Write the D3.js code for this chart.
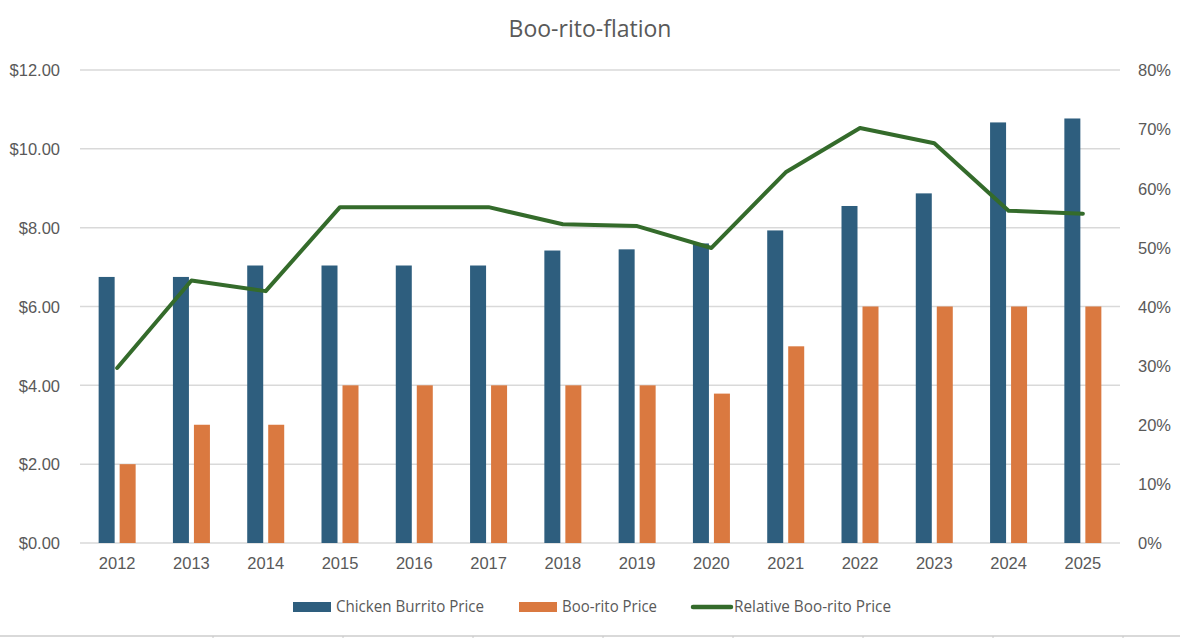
<!DOCTYPE html>
<html>
<head>
<meta charset="utf-8">
<script src="https://cdn.jsdelivr.net/npm/d3@7"></script>
<style>
  body { margin: 0; background: #fff; }
  svg { display: block; font-family: "Open Sans", "Noto Sans", sans-serif; }
</style>
</head>
<body>
<div id="root"></div>
<script>
// data
const years = ['2012', '2013', '2014', '2015', '2016', '2017', '2018', '2019', '2020', '2021', '2022', '2023', '2024', '2025'];
const chickenBurritoPrice = [6.75, 6.75, 7.04, 7.04, 7.04, 7.04, 7.42, 7.45, 7.60, 7.93, 8.55, 8.87, 10.67, 10.77];
const booritoPrice = [2.00, 3.00, 3.00, 4.00, 4.00, 4.00, 4.00, 4.00, 3.79, 4.99, 6.00, 6.00, 6.00, 6.00];
const relativePrice = [0.296, 0.444, 0.426, 0.568, 0.568, 0.568, 0.539, 0.536, 0.499, 0.627, 0.702, 0.676, 0.562, 0.557];
const leftTicks = [0, 2, 4, 6, 8, 10, 12];
const rightTicks = [0, 0.1, 0.2, 0.3, 0.4, 0.5, 0.6, 0.7, 0.8];
const seriesNames = ['Chicken Burrito Price', 'Boo-rito Price', 'Relative Boo-rito Price'];

const width = 1180, height = 638;
const margin = { top: 70, right: 60, bottom: 95, left: 80 };
const colors = { chicken: '#2E5E7E', boo: '#DA7940', rel: '#346B2B', grid: '#D9D9D9', text: '#595959' };

let svg = d3.select('#root').append('svg')
    .attr('width', width)
    .attr('height', height);

let x = d3.scaleBand()
    .domain(years)
    .range([margin.left, width - margin.right])
    .padding(0);

let yLeft = d3.scaleLinear().domain([0, 12]).range([height - margin.bottom, margin.top]);
let yRight = d3.scaleLinear().domain([0, 0.8]).range([height - margin.bottom, margin.top]);

// title
svg.append('text')
    .attr('x', width / 2)
    .attr('y', 37)
    .attr('text-anchor', 'middle')
    .style('font-size', '23px')
    .style('fill', colors.text)
    .text('Boo-rito-flation');

// gridlines
svg.append('g')
    .selectAll('line')
    .data(leftTicks)
    .enter()
    .append('line')
    .attr('x1', margin.left)
    .attr('x2', width - margin.right)
    .attr('y1', (d) => yLeft(d))
    .attr('y2', (d) => yLeft(d))
    .style('stroke', colors.grid)
    .style('stroke-width', 1.5);

// left axis labels
let leftAxis = svg.append('g')
    .attr('transform', `translate(${margin.left - 20},0)`)
    .call(d3.axisLeft(yLeft).tickValues(leftTicks).tickFormat((d) => '$' + d.toFixed(2)).tickSize(0).tickPadding(0));
leftAxis.select('.domain').remove();

// right axis labels
let rightAxis = svg.append('g')
    .attr('transform', `translate(${width - margin.right + 18},0)`)
    .call(d3.axisRight(yRight).tickValues(rightTicks).tickFormat(d3.format('.0%')).tickSize(0).tickPadding(0));
rightAxis.select('.domain').remove();

// bottom axis labels
let bottomAxis = svg.append('g')
    .attr('transform', `translate(0,${height - margin.bottom + 14})`)
    .call(d3.axisBottom(x).tickSize(0).tickPadding(0));
bottomAxis.select('.domain').remove();

svg.selectAll('.tick text')
    .style('font-size', '16.5px')
    .style('fill', colors.text)
    .attr('dy', null);
leftAxis.selectAll('.tick text').attr('dy', '0.35em');
rightAxis.selectAll('.tick text').attr('dy', '0.35em');
bottomAxis.selectAll('.tick text').attr('dy', '0.75em');

// bars
let barWidth = 16, barGap = 5;

svg.append('g')
    .selectAll('rect')
    .data(chickenBurritoPrice)
    .enter()
    .append('rect')
    .attr('x', (d, i) => x(years[i]) + x.bandwidth() / 2 - barWidth - barGap / 2)
    .attr('y', (d) => yLeft(d))
    .attr('width', barWidth)
    .attr('height', (d) => yLeft(0) - yLeft(d))
    .style('fill', colors.chicken);

svg.append('g')
    .selectAll('rect')
    .data(booritoPrice)
    .enter()
    .append('rect')
    .attr('x', (d, i) => x(years[i]) + x.bandwidth() / 2 + barGap / 2)
    .attr('y', (d) => yLeft(d))
    .attr('width', barWidth)
    .attr('height', (d) => yLeft(0) - yLeft(d))
    .style('fill', colors.boo);

// relative price line
let line = d3.line()
    .x((d, i) => x(years[i]) + x.bandwidth() / 2)
    .y((d) => yRight(d));

svg.append('path')
    .datum(relativePrice)
    .attr('d', line)
    .style('fill', 'none')
    .style('stroke', colors.rel)
    .style('stroke-width', 4)
    .style('stroke-linecap', 'round')
    .style('stroke-linejoin', 'round');

// legend - text squeezed a bit, the original font is narrower
let legendY = 607;
let legend = svg.append('g').style('font-size', '17px').style('fill', colors.text);
let legendItems = [
    { name: seriesNames[0], x: 293, len: 148, type: 'rect', color: colors.chicken },
    { name: seriesNames[1], x: 519, len: 95, type: 'rect', color: colors.boo },
    { name: seriesNames[2], x: 691, len: 157, type: 'line', color: colors.rel }
];

legendItems.forEach((item) => {
    if (item.type === 'rect') {
        legend.append('rect')
            .attr('x', item.x).attr('y', legendY - 5)
            .attr('width', 38).attr('height', 10)
            .style('fill', item.color);
    } else {
        legend.append('line')
            .attr('x1', item.x + 2).attr('x2', item.x + 40)
            .attr('y1', legendY).attr('y2', legendY)
            .style('stroke', item.color)
            .style('stroke-width', 4.5)
            .style('stroke-linecap', 'round');
    }
    legend.append('text')
        .attr('x', item.x + 43)
        .attr('y', legendY - 1)
        .attr('dy', '0.35em')
        .attr('textLength', item.len)
        .attr('lengthAdjust', 'spacingAndGlyphs')
        .text(item.name);
});

// faint sheet border at the bottom
svg.append('line')
    .attr('x1', 0).attr('x2', width)
    .attr('y1', 636).attr('y2', 636)
    .style('stroke', colors.grid)
    .style('stroke-width', 2);

svg.append('g')
    .selectAll('line')
    .data(d3.range(8))
    .enter()
    .append('line')
    .attr('x1', (d) => 213 + d * 130)
    .attr('x2', (d) => 213 + d * 130)
    .attr('y1', 636).attr('y2', 638)
    .style('stroke', '#C8C8C8')
    .style('stroke-width', 1);
</script>
</body>
</html>
